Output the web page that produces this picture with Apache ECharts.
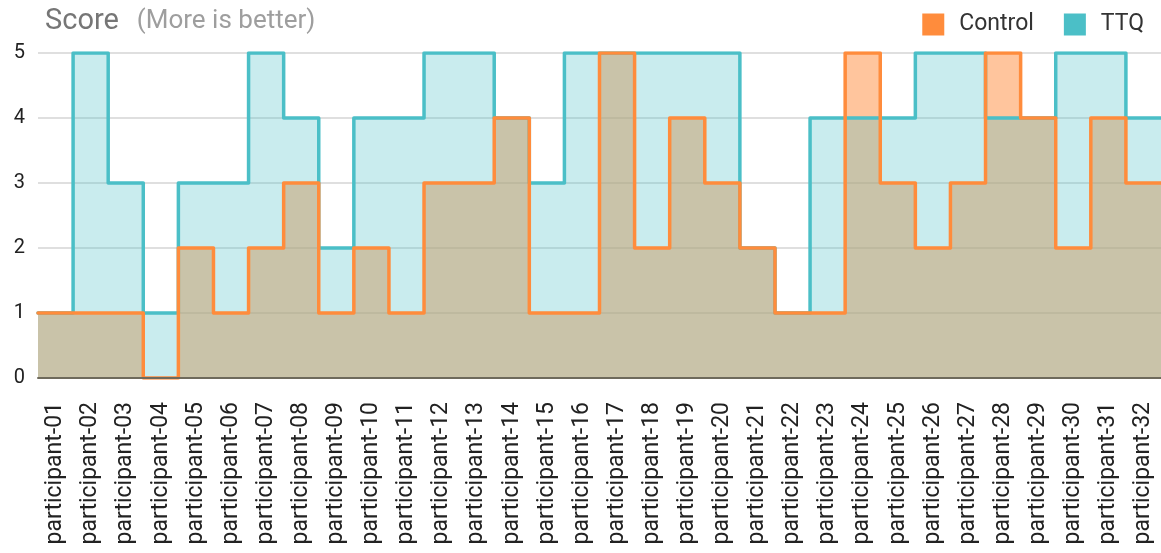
<!DOCTYPE html>
<html>
<head>
<meta charset="utf-8">
<title>Score (More is better)</title>
<script src="https://cdn.jsdelivr.net/npm/echarts@6/dist/echarts.min.js"></script>
<style>
  html, body { margin: 0; padding: 0; background: #fff; }
  #chart { width: 1161px; height: 553px; }
</style>
</head>
<body>
<div id="chart"></div>
<script>
// participants on the x axis
const participants = [
  'participant-01', 'participant-02', 'participant-03', 'participant-04',
  'participant-05', 'participant-06', 'participant-07', 'participant-08',
  'participant-09', 'participant-10', 'participant-11', 'participant-12',
  'participant-13', 'participant-14', 'participant-15', 'participant-16',
  'participant-17', 'participant-18', 'participant-19', 'participant-20',
  'participant-21', 'participant-22', 'participant-23', 'participant-24',
  'participant-25', 'participant-26', 'participant-27', 'participant-28',
  'participant-29', 'participant-30', 'participant-31', 'participant-32'
];

// scores
const controlScores = [1, 1, 1, 0, 2, 1, 2, 3, 1, 2, 1, 3, 3, 4, 1, 1,
                       5, 2, 4, 3, 2, 1, 1, 5, 3, 2, 3, 5, 4, 2, 4, 3];
const ttqScores     = [1, 5, 3, 1, 3, 3, 5, 4, 2, 4, 4, 5, 5, 4, 3, 5,
                       5, 5, 5, 5, 2, 1, 4, 4, 4, 5, 5, 4, 4, 5, 5, 4];

const yTicks = [0, 1, 2, 3, 4, 5];

const ORANGE = '#ff8c3c';
const TEAL = '#4bbfc7';

// each participant fills its whole band: point i sits at the band's left edge,
// and the last value is repeated at the right edge
function bandSteps(values) {
  const pts = values.map((v, i) => [i, v]);
  pts.push([values.length, values[values.length - 1]]);
  return pts;
}

const chart = echarts.init(document.getElementById('chart'));

function areaSeries(name, values, color, opacity) {
  return {
    name: name,
    type: 'line',
    xAxisIndex: 1,
    step: 'end',
    data: bandSteps(values),
    showSymbol: false,
    color: color,
    lineStyle: { width: 0 },
    areaStyle: { color: color, opacity: opacity },
    silent: true,
    z: 2
  };
}

function lineSeries(name, values, color, z) {
  return {
    name: name,
    type: 'line',
    xAxisIndex: 1,
    step: 'end',
    data: bandSteps(values),
    showSymbol: false,
    color: color,
    lineStyle: { width: 3.5, color: color, join: 'round', cap: 'round' },
    z: z
  };
}

chart.setOption({
  animation: false,
  textStyle: { fontFamily: 'Roboto' },
  title: {
    left: 40,
    top: 2,
    text: '{a|Score}{b|(More is better)}',
    textStyle: {
      fontWeight: 'normal',
      rich: {
        a: { fontSize: 29, color: '#767676', fontFamily: 'Roboto', fontWeight: 'normal' },
        b: { fontSize: 26, color: '#9e9e9e', fontFamily: 'Roboto', fontWeight: 'normal',
             padding: [0, 0, 0, 18] }
      }
    }
  },
  legend: {
    right: 12,
    top: 8,
    icon: 'rect',
    itemWidth: 22,
    itemHeight: 22,
    itemGap: 30,
    data: ['Control', 'TTQ'],
    textStyle: { fontSize: 23, color: '#333', padding: [0, 0, 0, 10] }
  },
  grid: { left: 38, right: 0, top: 53, bottom: 175 },
  xAxis: [
    {
      type: 'category',
      data: participants,
      boundaryGap: true,
      z: 10,
      axisLine: { show: true, lineStyle: { color: '#6e6a5c', width: 2 } },
      axisTick: { show: false },
      splitLine: { show: false },
      axisLabel: {
        rotate: 90,
        interval: 0,
        margin: 24,
        fontSize: 23,
        color: '#222'
      }
    },
    {
      type: 'value',
      min: 0,
      max: participants.length,
      show: false
    }
  ],
  yAxis: {
    type: 'value',
    min: yTicks[0],
    max: yTicks[yTicks.length - 1],
    interval: 1,
    axisLine: { show: false },
    axisTick: { show: false },
    axisLabel: { fontSize: 20, color: '#222', margin: 13 },
    splitLine: { lineStyle: { color: '#d4d4d4', width: 1.5 } }
  },
  series: [
    areaSeries('Control', controlScores, ORANGE, 0.5),
    areaSeries('TTQ', ttqScores, TEAL, 0.3),
    lineSeries('TTQ', ttqScores, TEAL, 3),
    lineSeries('Control', controlScores, ORANGE, 4)
  ]
});

window.onresize = () => chart.resize();
</script>
</body>
</html>
